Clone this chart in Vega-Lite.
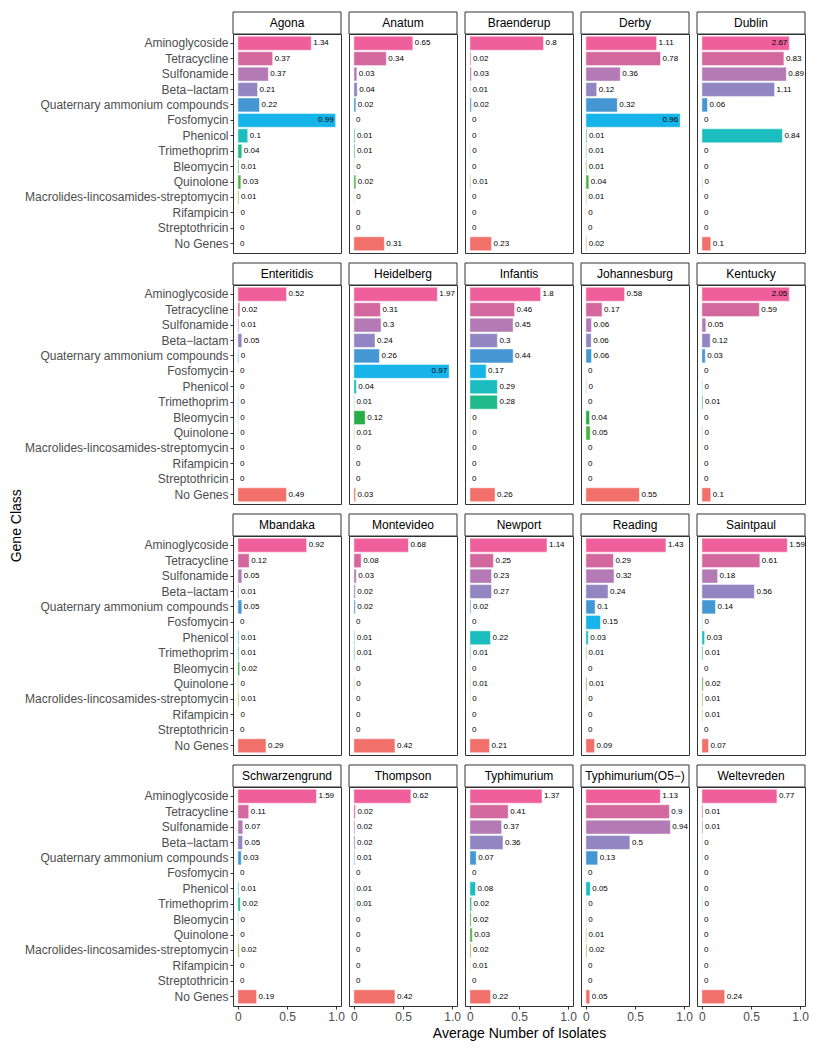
{
"$schema": "https://vega.github.io/schema/vega-lite/v6.json",
"padding": {"left": 10, "top": 10, "right": 5, "bottom": 5},
"background": "white",
"title": {"text": "Gene Class", "orient": "left", "anchor": "middle", "fontSize": 14, "fontWeight": "normal", "color": "#000000", "font": "Liberation Sans", "offset": 0},
"datasets": {"raw": [
{"serotype":"Agona","class":"Aminoglycoside","share":0.747,"avg":1.34},
{"serotype":"Agona","class":"Tetracycline","share":0.354,"avg":0.37},
{"serotype":"Agona","class":"Sulfonamide","share":0.31,"avg":0.37},
{"serotype":"Agona","class":"Beta−lactam","share":0.2,"avg":0.21},
{"serotype":"Agona","class":"Quaternary ammonium compounds","share":0.22,"avg":0.22},
{"serotype":"Agona","class":"Fosfomycin","share":0.995,"avg":0.99},
{"serotype":"Agona","class":"Phenicol","share":0.1,"avg":0.1},
{"serotype":"Agona","class":"Trimethoprim","share":0.04,"avg":0.04},
{"serotype":"Agona","class":"Bleomycin","share":0.01,"avg":0.01},
{"serotype":"Agona","class":"Quinolone","share":0.03,"avg":0.03},
{"serotype":"Agona","class":"Macrolides-lincosamides-streptomycin","share":0.01,"avg":0.01},
{"serotype":"Agona","class":"Rifampicin","share":0.005,"avg":0},
{"serotype":"Agona","class":"Streptothricin","share":0,"avg":0},
{"serotype":"Agona","class":"No Genes","share":0,"avg":0},
{"serotype":"Anatum","class":"Aminoglycoside","share":0.6,"avg":0.65},
{"serotype":"Anatum","class":"Tetracycline","share":0.33,"avg":0.34},
{"serotype":"Anatum","class":"Sulfonamide","share":0.03,"avg":0.03},
{"serotype":"Anatum","class":"Beta−lactam","share":0.034,"avg":0.04},
{"serotype":"Anatum","class":"Quaternary ammonium compounds","share":0.02,"avg":0.02},
{"serotype":"Anatum","class":"Fosfomycin","share":0,"avg":0},
{"serotype":"Anatum","class":"Phenicol","share":0.01,"avg":0.01},
{"serotype":"Anatum","class":"Trimethoprim","share":0.01,"avg":0.01},
{"serotype":"Anatum","class":"Bleomycin","share":0.003,"avg":0},
{"serotype":"Anatum","class":"Quinolone","share":0.02,"avg":0.02},
{"serotype":"Anatum","class":"Macrolides-lincosamides-streptomycin","share":0.003,"avg":0},
{"serotype":"Anatum","class":"Rifampicin","share":0,"avg":0},
{"serotype":"Anatum","class":"Streptothricin","share":0,"avg":0},
{"serotype":"Anatum","class":"No Genes","share":0.31,"avg":0.31},
{"serotype":"Braenderup","class":"Aminoglycoside","share":0.75,"avg":0.8},
{"serotype":"Braenderup","class":"Tetracycline","share":0.01,"avg":0.02},
{"serotype":"Braenderup","class":"Sulfonamide","share":0.015,"avg":0.03},
{"serotype":"Braenderup","class":"Beta−lactam","share":0.005,"avg":0.01},
{"serotype":"Braenderup","class":"Quaternary ammonium compounds","share":0.015,"avg":0.02},
{"serotype":"Braenderup","class":"Fosfomycin","share":0,"avg":0},
{"serotype":"Braenderup","class":"Phenicol","share":0,"avg":0},
{"serotype":"Braenderup","class":"Trimethoprim","share":0.003,"avg":0},
{"serotype":"Braenderup","class":"Bleomycin","share":0,"avg":0},
{"serotype":"Braenderup","class":"Quinolone","share":0.007,"avg":0.01},
{"serotype":"Braenderup","class":"Macrolides-lincosamides-streptomycin","share":0,"avg":0},
{"serotype":"Braenderup","class":"Rifampicin","share":0,"avg":0},
{"serotype":"Braenderup","class":"Streptothricin","share":0,"avg":0},
{"serotype":"Braenderup","class":"No Genes","share":0.22,"avg":0.23},
{"serotype":"Derby","class":"Aminoglycoside","share":0.72,"avg":1.11},
{"serotype":"Derby","class":"Tetracycline","share":0.76,"avg":0.78},
{"serotype":"Derby","class":"Sulfonamide","share":0.35,"avg":0.36},
{"serotype":"Derby","class":"Beta−lactam","share":0.11,"avg":0.12},
{"serotype":"Derby","class":"Quaternary ammonium compounds","share":0.32,"avg":0.32},
{"serotype":"Derby","class":"Fosfomycin","share":0.96,"avg":0.96},
{"serotype":"Derby","class":"Phenicol","share":0.01,"avg":0.01},
{"serotype":"Derby","class":"Trimethoprim","share":0.007,"avg":0.01},
{"serotype":"Derby","class":"Bleomycin","share":0.008,"avg":0.01},
{"serotype":"Derby","class":"Quinolone","share":0.03,"avg":0.04},
{"serotype":"Derby","class":"Macrolides-lincosamides-streptomycin","share":0.007,"avg":0.01},
{"serotype":"Derby","class":"Rifampicin","share":0.003,"avg":0},
{"serotype":"Derby","class":"Streptothricin","share":0,"avg":0},
{"serotype":"Derby","class":"No Genes","share":0.008,"avg":0.02},
{"serotype":"Dublin","class":"Aminoglycoside","share":0.89,"avg":2.67},
{"serotype":"Dublin","class":"Tetracycline","share":0.835,"avg":0.83},
{"serotype":"Dublin","class":"Sulfonamide","share":0.86,"avg":0.89},
{"serotype":"Dublin","class":"Beta−lactam","share":0.74,"avg":1.11},
{"serotype":"Dublin","class":"Quaternary ammonium compounds","share":0.057,"avg":0.06},
{"serotype":"Dublin","class":"Fosfomycin","share":0,"avg":0},
{"serotype":"Dublin","class":"Phenicol","share":0.82,"avg":0.84},
{"serotype":"Dublin","class":"Trimethoprim","share":0,"avg":0},
{"serotype":"Dublin","class":"Bleomycin","share":0,"avg":0},
{"serotype":"Dublin","class":"Quinolone","share":0.005,"avg":0},
{"serotype":"Dublin","class":"Macrolides-lincosamides-streptomycin","share":0,"avg":0},
{"serotype":"Dublin","class":"Rifampicin","share":0,"avg":0},
{"serotype":"Dublin","class":"Streptothricin","share":0,"avg":0},
{"serotype":"Dublin","class":"No Genes","share":0.09,"avg":0.1},
{"serotype":"Enteritidis","class":"Aminoglycoside","share":0.495,"avg":0.52},
{"serotype":"Enteritidis","class":"Tetracycline","share":0.02,"avg":0.02},
{"serotype":"Enteritidis","class":"Sulfonamide","share":0.01,"avg":0.01},
{"serotype":"Enteritidis","class":"Beta−lactam","share":0.04,"avg":0.05},
{"serotype":"Enteritidis","class":"Quaternary ammonium compounds","share":0.008,"avg":0},
{"serotype":"Enteritidis","class":"Fosfomycin","share":0,"avg":0},
{"serotype":"Enteritidis","class":"Phenicol","share":0.002,"avg":0},
{"serotype":"Enteritidis","class":"Trimethoprim","share":0.005,"avg":0},
{"serotype":"Enteritidis","class":"Bleomycin","share":0.004,"avg":0},
{"serotype":"Enteritidis","class":"Quinolone","share":0.004,"avg":0},
{"serotype":"Enteritidis","class":"Macrolides-lincosamides-streptomycin","share":0.002,"avg":0},
{"serotype":"Enteritidis","class":"Rifampicin","share":0,"avg":0},
{"serotype":"Enteritidis","class":"Streptothricin","share":0,"avg":0},
{"serotype":"Enteritidis","class":"No Genes","share":0.495,"avg":0.49},
{"serotype":"Heidelberg","class":"Aminoglycoside","share":0.85,"avg":1.97},
{"serotype":"Heidelberg","class":"Tetracycline","share":0.27,"avg":0.31},
{"serotype":"Heidelberg","class":"Sulfonamide","share":0.276,"avg":0.3},
{"serotype":"Heidelberg","class":"Beta−lactam","share":0.215,"avg":0.24},
{"serotype":"Heidelberg","class":"Quaternary ammonium compounds","share":0.26,"avg":0.26},
{"serotype":"Heidelberg","class":"Fosfomycin","share":0.97,"avg":0.97},
{"serotype":"Heidelberg","class":"Phenicol","share":0.025,"avg":0.04},
{"serotype":"Heidelberg","class":"Trimethoprim","share":0.005,"avg":0.01},
{"serotype":"Heidelberg","class":"Bleomycin","share":0.115,"avg":0.12},
{"serotype":"Heidelberg","class":"Quinolone","share":0.005,"avg":0.01},
{"serotype":"Heidelberg","class":"Macrolides-lincosamides-streptomycin","share":0.003,"avg":0},
{"serotype":"Heidelberg","class":"Rifampicin","share":0.002,"avg":0},
{"serotype":"Heidelberg","class":"Streptothricin","share":0.002,"avg":0},
{"serotype":"Heidelberg","class":"No Genes","share":0.017,"avg":0.03},
{"serotype":"Infantis","class":"Aminoglycoside","share":0.72,"avg":1.8},
{"serotype":"Infantis","class":"Tetracycline","share":0.455,"avg":0.46},
{"serotype":"Infantis","class":"Sulfonamide","share":0.44,"avg":0.45},
{"serotype":"Infantis","class":"Beta−lactam","share":0.28,"avg":0.3},
{"serotype":"Infantis","class":"Quaternary ammonium compounds","share":0.44,"avg":0.44},
{"serotype":"Infantis","class":"Fosfomycin","share":0.165,"avg":0.17},
{"serotype":"Infantis","class":"Phenicol","share":0.28,"avg":0.29},
{"serotype":"Infantis","class":"Trimethoprim","share":0.28,"avg":0.28},
{"serotype":"Infantis","class":"Bleomycin","share":0.003,"avg":0},
{"serotype":"Infantis","class":"Quinolone","share":0.003,"avg":0},
{"serotype":"Infantis","class":"Macrolides-lincosamides-streptomycin","share":0.003,"avg":0},
{"serotype":"Infantis","class":"Rifampicin","share":0,"avg":0},
{"serotype":"Infantis","class":"Streptothricin","share":0,"avg":0},
{"serotype":"Infantis","class":"No Genes","share":0.256,"avg":0.26},
{"serotype":"Johannesburg","class":"Aminoglycoside","share":0.394,"avg":0.58},
{"serotype":"Johannesburg","class":"Tetracycline","share":0.165,"avg":0.17},
{"serotype":"Johannesburg","class":"Sulfonamide","share":0.057,"avg":0.06},
{"serotype":"Johannesburg","class":"Beta−lactam","share":0.054,"avg":0.06},
{"serotype":"Johannesburg","class":"Quaternary ammonium compounds","share":0.057,"avg":0.06},
{"serotype":"Johannesburg","class":"Fosfomycin","share":0,"avg":0},
{"serotype":"Johannesburg","class":"Phenicol","share":0.005,"avg":0},
{"serotype":"Johannesburg","class":"Trimethoprim","share":0,"avg":0},
{"serotype":"Johannesburg","class":"Bleomycin","share":0.037,"avg":0.04},
{"serotype":"Johannesburg","class":"Quinolone","share":0.044,"avg":0.05},
{"serotype":"Johannesburg","class":"Macrolides-lincosamides-streptomycin","share":0,"avg":0},
{"serotype":"Johannesburg","class":"Rifampicin","share":0,"avg":0},
{"serotype":"Johannesburg","class":"Streptothricin","share":0,"avg":0},
{"serotype":"Johannesburg","class":"No Genes","share":0.545,"avg":0.55},
{"serotype":"Kentucky","class":"Aminoglycoside","share":0.89,"avg":2.05},
{"serotype":"Kentucky","class":"Tetracycline","share":0.585,"avg":0.59},
{"serotype":"Kentucky","class":"Sulfonamide","share":0.04,"avg":0.05},
{"serotype":"Kentucky","class":"Beta−lactam","share":0.084,"avg":0.12},
{"serotype":"Kentucky","class":"Quaternary ammonium compounds","share":0.034,"avg":0.03},
{"serotype":"Kentucky","class":"Fosfomycin","share":0,"avg":0},
{"serotype":"Kentucky","class":"Phenicol","share":0.006,"avg":0},
{"serotype":"Kentucky","class":"Trimethoprim","share":0.01,"avg":0.01},
{"serotype":"Kentucky","class":"Bleomycin","share":0,"avg":0},
{"serotype":"Kentucky","class":"Quinolone","share":0.005,"avg":0},
{"serotype":"Kentucky","class":"Macrolides-lincosamides-streptomycin","share":0.002,"avg":0},
{"serotype":"Kentucky","class":"Rifampicin","share":0.002,"avg":0},
{"serotype":"Kentucky","class":"Streptothricin","share":0,"avg":0},
{"serotype":"Kentucky","class":"No Genes","share":0.09,"avg":0.1},
{"serotype":"Mbandaka","class":"Aminoglycoside","share":0.7,"avg":0.92},
{"serotype":"Mbandaka","class":"Tetracycline","share":0.115,"avg":0.12},
{"serotype":"Mbandaka","class":"Sulfonamide","share":0.04,"avg":0.05},
{"serotype":"Mbandaka","class":"Beta−lactam","share":0.01,"avg":0.01},
{"serotype":"Mbandaka","class":"Quaternary ammonium compounds","share":0.04,"avg":0.05},
{"serotype":"Mbandaka","class":"Fosfomycin","share":0,"avg":0},
{"serotype":"Mbandaka","class":"Phenicol","share":0.01,"avg":0.01},
{"serotype":"Mbandaka","class":"Trimethoprim","share":0.01,"avg":0.01},
{"serotype":"Mbandaka","class":"Bleomycin","share":0.017,"avg":0.02},
{"serotype":"Mbandaka","class":"Quinolone","share":0.005,"avg":0},
{"serotype":"Mbandaka","class":"Macrolides-lincosamides-streptomycin","share":0.01,"avg":0.01},
{"serotype":"Mbandaka","class":"Rifampicin","share":0.005,"avg":0},
{"serotype":"Mbandaka","class":"Streptothricin","share":0,"avg":0},
{"serotype":"Mbandaka","class":"No Genes","share":0.286,"avg":0.29},
{"serotype":"Montevideo","class":"Aminoglycoside","share":0.555,"avg":0.68},
{"serotype":"Montevideo","class":"Tetracycline","share":0.074,"avg":0.08},
{"serotype":"Montevideo","class":"Sulfonamide","share":0.024,"avg":0.03},
{"serotype":"Montevideo","class":"Beta−lactam","share":0.014,"avg":0.02},
{"serotype":"Montevideo","class":"Quaternary ammonium compounds","share":0.014,"avg":0.02},
{"serotype":"Montevideo","class":"Fosfomycin","share":0,"avg":0},
{"serotype":"Montevideo","class":"Phenicol","share":0.008,"avg":0.01},
{"serotype":"Montevideo","class":"Trimethoprim","share":0.008,"avg":0.01},
{"serotype":"Montevideo","class":"Bleomycin","share":0,"avg":0},
{"serotype":"Montevideo","class":"Quinolone","share":0.004,"avg":0},
{"serotype":"Montevideo","class":"Macrolides-lincosamides-streptomycin","share":0,"avg":0},
{"serotype":"Montevideo","class":"Rifampicin","share":0,"avg":0},
{"serotype":"Montevideo","class":"Streptothricin","share":0,"avg":0},
{"serotype":"Montevideo","class":"No Genes","share":0.418,"avg":0.42},
{"serotype":"Newport","class":"Aminoglycoside","share":0.785,"avg":1.14},
{"serotype":"Newport","class":"Tetracycline","share":0.24,"avg":0.25},
{"serotype":"Newport","class":"Sulfonamide","share":0.22,"avg":0.23},
{"serotype":"Newport","class":"Beta−lactam","share":0.22,"avg":0.27},
{"serotype":"Newport","class":"Quaternary ammonium compounds","share":0.01,"avg":0.02},
{"serotype":"Newport","class":"Fosfomycin","share":0,"avg":0},
{"serotype":"Newport","class":"Phenicol","share":0.21,"avg":0.22},
{"serotype":"Newport","class":"Trimethoprim","share":0.008,"avg":0.01},
{"serotype":"Newport","class":"Bleomycin","share":0.002,"avg":0},
{"serotype":"Newport","class":"Quinolone","share":0.006,"avg":0.01},
{"serotype":"Newport","class":"Macrolides-lincosamides-streptomycin","share":0.003,"avg":0},
{"serotype":"Newport","class":"Rifampicin","share":0.002,"avg":0},
{"serotype":"Newport","class":"Streptothricin","share":0,"avg":0},
{"serotype":"Newport","class":"No Genes","share":0.2,"avg":0.21},
{"serotype":"Reading","class":"Aminoglycoside","share":0.815,"avg":1.43},
{"serotype":"Reading","class":"Tetracycline","share":0.28,"avg":0.29},
{"serotype":"Reading","class":"Sulfonamide","share":0.286,"avg":0.32},
{"serotype":"Reading","class":"Beta−lactam","share":0.225,"avg":0.24},
{"serotype":"Reading","class":"Quaternary ammonium compounds","share":0.094,"avg":0.1},
{"serotype":"Reading","class":"Fosfomycin","share":0.148,"avg":0.15},
{"serotype":"Reading","class":"Phenicol","share":0.024,"avg":0.03},
{"serotype":"Reading","class":"Trimethoprim","share":0.007,"avg":0.01},
{"serotype":"Reading","class":"Bleomycin","share":0,"avg":0},
{"serotype":"Reading","class":"Quinolone","share":0.01,"avg":0.01},
{"serotype":"Reading","class":"Macrolides-lincosamides-streptomycin","share":0.004,"avg":0},
{"serotype":"Reading","class":"Rifampicin","share":0,"avg":0},
{"serotype":"Reading","class":"Streptothricin","share":0,"avg":0},
{"serotype":"Reading","class":"No Genes","share":0.088,"avg":0.09},
{"serotype":"Saintpaul","class":"Aminoglycoside","share":0.87,"avg":1.59},
{"serotype":"Saintpaul","class":"Tetracycline","share":0.59,"avg":0.61},
{"serotype":"Saintpaul","class":"Sulfonamide","share":0.16,"avg":0.18},
{"serotype":"Saintpaul","class":"Beta−lactam","share":0.535,"avg":0.56},
{"serotype":"Saintpaul","class":"Quaternary ammonium compounds","share":0.138,"avg":0.14},
{"serotype":"Saintpaul","class":"Fosfomycin","share":0.005,"avg":0},
{"serotype":"Saintpaul","class":"Phenicol","share":0.027,"avg":0.03},
{"serotype":"Saintpaul","class":"Trimethoprim","share":0.01,"avg":0.01},
{"serotype":"Saintpaul","class":"Bleomycin","share":0,"avg":0},
{"serotype":"Saintpaul","class":"Quinolone","share":0.013,"avg":0.02},
{"serotype":"Saintpaul","class":"Macrolides-lincosamides-streptomycin","share":0.01,"avg":0.01},
{"serotype":"Saintpaul","class":"Rifampicin","share":0.01,"avg":0.01},
{"serotype":"Saintpaul","class":"Streptothricin","share":0,"avg":0},
{"serotype":"Saintpaul","class":"No Genes","share":0.067,"avg":0.07},
{"serotype":"Schwarzengrund","class":"Aminoglycoside","share":0.8,"avg":1.59},
{"serotype":"Schwarzengrund","class":"Tetracycline","share":0.11,"avg":0.11},
{"serotype":"Schwarzengrund","class":"Sulfonamide","share":0.05,"avg":0.07},
{"serotype":"Schwarzengrund","class":"Beta−lactam","share":0.047,"avg":0.05},
{"serotype":"Schwarzengrund","class":"Quaternary ammonium compounds","share":0.034,"avg":0.03},
{"serotype":"Schwarzengrund","class":"Fosfomycin","share":0,"avg":0},
{"serotype":"Schwarzengrund","class":"Phenicol","share":0.01,"avg":0.01},
{"serotype":"Schwarzengrund","class":"Trimethoprim","share":0.024,"avg":0.02},
{"serotype":"Schwarzengrund","class":"Bleomycin","share":0.005,"avg":0},
{"serotype":"Schwarzengrund","class":"Quinolone","share":0.003,"avg":0},
{"serotype":"Schwarzengrund","class":"Macrolides-lincosamides-streptomycin","share":0.013,"avg":0.02},
{"serotype":"Schwarzengrund","class":"Rifampicin","share":0,"avg":0},
{"serotype":"Schwarzengrund","class":"Streptothricin","share":0,"avg":0},
{"serotype":"Schwarzengrund","class":"No Genes","share":0.19,"avg":0.19},
{"serotype":"Thompson","class":"Aminoglycoside","share":0.58,"avg":0.62},
{"serotype":"Thompson","class":"Tetracycline","share":0.015,"avg":0.02},
{"serotype":"Thompson","class":"Sulfonamide","share":0.01,"avg":0.02},
{"serotype":"Thompson","class":"Beta−lactam","share":0.012,"avg":0.02},
{"serotype":"Thompson","class":"Quaternary ammonium compounds","share":0.008,"avg":0.01},
{"serotype":"Thompson","class":"Fosfomycin","share":0,"avg":0},
{"serotype":"Thompson","class":"Phenicol","share":0.005,"avg":0.01},
{"serotype":"Thompson","class":"Trimethoprim","share":0.006,"avg":0.01},
{"serotype":"Thompson","class":"Bleomycin","share":0,"avg":0},
{"serotype":"Thompson","class":"Quinolone","share":0,"avg":0},
{"serotype":"Thompson","class":"Macrolides-lincosamides-streptomycin","share":0,"avg":0},
{"serotype":"Thompson","class":"Rifampicin","share":0,"avg":0},
{"serotype":"Thompson","class":"Streptothricin","share":0,"avg":0},
{"serotype":"Thompson","class":"No Genes","share":0.418,"avg":0.42},
{"serotype":"Typhimurium","class":"Aminoglycoside","share":0.734,"avg":1.37},
{"serotype":"Typhimurium","class":"Tetracycline","share":0.39,"avg":0.41},
{"serotype":"Typhimurium","class":"Sulfonamide","share":0.323,"avg":0.37},
{"serotype":"Typhimurium","class":"Beta−lactam","share":0.337,"avg":0.36},
{"serotype":"Typhimurium","class":"Quaternary ammonium compounds","share":0.064,"avg":0.07},
{"serotype":"Typhimurium","class":"Fosfomycin","share":0,"avg":0},
{"serotype":"Typhimurium","class":"Phenicol","share":0.057,"avg":0.08},
{"serotype":"Typhimurium","class":"Trimethoprim","share":0.017,"avg":0.02},
{"serotype":"Typhimurium","class":"Bleomycin","share":0.012,"avg":0.02},
{"serotype":"Typhimurium","class":"Quinolone","share":0.024,"avg":0.03},
{"serotype":"Typhimurium","class":"Macrolides-lincosamides-streptomycin","share":0.012,"avg":0.02},
{"serotype":"Typhimurium","class":"Rifampicin","share":0.005,"avg":0.01},
{"serotype":"Typhimurium","class":"Streptothricin","share":0,"avg":0},
{"serotype":"Typhimurium","class":"No Genes","share":0.21,"avg":0.22},
{"serotype":"Typhimurium(O5−)","class":"Aminoglycoside","share":0.758,"avg":1.13},
{"serotype":"Typhimurium(O5−)","class":"Tetracycline","share":0.85,"avg":0.9},
{"serotype":"Typhimurium(O5−)","class":"Sulfonamide","share":0.86,"avg":0.94},
{"serotype":"Typhimurium(O5−)","class":"Beta−lactam","share":0.448,"avg":0.5},
{"serotype":"Typhimurium(O5−)","class":"Quaternary ammonium compounds","share":0.12,"avg":0.13},
{"serotype":"Typhimurium(O5−)","class":"Fosfomycin","share":0,"avg":0},
{"serotype":"Typhimurium(O5−)","class":"Phenicol","share":0.044,"avg":0.05},
{"serotype":"Typhimurium(O5−)","class":"Trimethoprim","share":0.004,"avg":0},
{"serotype":"Typhimurium(O5−)","class":"Bleomycin","share":0.004,"avg":0},
{"serotype":"Typhimurium(O5−)","class":"Quinolone","share":0.007,"avg":0.01},
{"serotype":"Typhimurium(O5−)","class":"Macrolides-lincosamides-streptomycin","share":0.01,"avg":0.02},
{"serotype":"Typhimurium(O5−)","class":"Rifampicin","share":0,"avg":0},
{"serotype":"Typhimurium(O5−)","class":"Streptothricin","share":0,"avg":0},
{"serotype":"Typhimurium(O5−)","class":"No Genes","share":0.04,"avg":0.05},
{"serotype":"Weltevreden","class":"Aminoglycoside","share":0.764,"avg":0.77},
{"serotype":"Weltevreden","class":"Tetracycline","share":0.01,"avg":0.01},
{"serotype":"Weltevreden","class":"Sulfonamide","share":0.01,"avg":0.01},
{"serotype":"Weltevreden","class":"Beta−lactam","share":0.003,"avg":0},
{"serotype":"Weltevreden","class":"Quaternary ammonium compounds","share":0.003,"avg":0},
{"serotype":"Weltevreden","class":"Fosfomycin","share":0,"avg":0},
{"serotype":"Weltevreden","class":"Phenicol","share":0,"avg":0},
{"serotype":"Weltevreden","class":"Trimethoprim","share":0.005,"avg":0},
{"serotype":"Weltevreden","class":"Bleomycin","share":0,"avg":0},
{"serotype":"Weltevreden","class":"Quinolone","share":0,"avg":0},
{"serotype":"Weltevreden","class":"Macrolides-lincosamides-streptomycin","share":0,"avg":0},
{"serotype":"Weltevreden","class":"Rifampicin","share":0,"avg":0},
{"serotype":"Weltevreden","class":"Streptothricin","share":0,"avg":0},
{"serotype":"Weltevreden","class":"No Genes","share":0.232,"avg":0.24}
]},
"data": {"name": "raw"},
"columns": 5,
"spacing": {"row": 32, "column": 8},
"bounds": "flush",
"concat": [
{"width":108,"height":219,"transform":[{"filter":"datum.serotype == 'Agona'"}],"resolve":{"scale":{"y":"independent"}},"layer":[{"layer":[{"mark":{"type":"bar","stroke":"white","strokeOpacity":0.45,"strokeWidth":1},"encoding":{"x":{"field":"share","type":"quantitative","scale":{"domain":[-0.05,1.05],"nice":false},"axis":null},"x2":{"datum":0},"y":{"field":"class","type":"nominal","scale":{"domain":["Aminoglycoside","Tetracycline","Sulfonamide","Beta−lactam","Quaternary ammonium compounds","Fosfomycin","Phenicol","Trimethoprim","Bleomycin","Quinolone","Macrolides-lincosamides-streptomycin","Rifampicin","Streptothricin","No Genes"],"paddingInner":0.1,"paddingOuter":0.15},"axis":{"title":null}},"color":{"field":"class","type":"nominal","legend":null,"scale":{"domain":["Aminoglycoside","Tetracycline","Sulfonamide","Beta−lactam","Quaternary ammonium compounds","Fosfomycin","Phenicol","Trimethoprim","Bleomycin","Quinolone","Macrolides-lincosamides-streptomycin","Rifampicin","Streptothricin","No Genes"],"range":["#EE5F9C","#D3689F","#B37AB5","#9186C2","#4597D3","#16B4E9","#1CBDBF","#1FB98A","#28AE48","#4FB045","#A2A93A","#E3C27E","#F0A060","#F1716A"]}}}},{"transform":[{"filter":"datum.share < 0.88"}],"mark":{"type":"text","align":"left","dx":2},"encoding":{"x":{"field":"share","type":"quantitative"},"y":{"field":"class","type":"nominal"},"text":{"field":"avg","type":"nominal"}}},{"transform":[{"filter":"datum.share >= 0.88"}],"mark":{"type":"text","align":"right","dx":-2},"encoding":{"x":{"field":"share","type":"quantitative"},"y":{"field":"class","type":"nominal"},"text":{"field":"avg","type":"nominal"}}}]},{"transform":[{"filter":"datum.class == 'Aminoglycoside'"}],"layer":[{"mark":{"type":"rect","fill":"white","stroke":"#333333","strokeWidth":1},"encoding":{"x":{"datum":-0.05,"type":"quantitative"},"x2":{"datum":1.05},"y":{"datum":1,"type":"quantitative","scale":{"domain":[0,1],"nice":false,"zero":false},"axis":null},"y2":{"datum":1.1005}}},{"mark":{"type":"text","fontSize":12,"align":"center"},"encoding":{"x":{"datum":0.5,"type":"quantitative"},"y":{"datum":1.05,"type":"quantitative"},"text":{"field":"serotype","type":"nominal"}}}]}]},
{"width":108,"height":219,"transform":[{"filter":"datum.serotype == 'Anatum'"}],"resolve":{"scale":{"y":"independent"}},"layer":[{"layer":[{"mark":{"type":"bar","stroke":"white","strokeOpacity":0.45,"strokeWidth":1},"encoding":{"x":{"field":"share","type":"quantitative","scale":{"domain":[-0.05,1.05],"nice":false},"axis":null},"x2":{"datum":0},"y":{"field":"class","type":"nominal","scale":{"domain":["Aminoglycoside","Tetracycline","Sulfonamide","Beta−lactam","Quaternary ammonium compounds","Fosfomycin","Phenicol","Trimethoprim","Bleomycin","Quinolone","Macrolides-lincosamides-streptomycin","Rifampicin","Streptothricin","No Genes"],"paddingInner":0.1,"paddingOuter":0.15},"axis":null},"color":{"field":"class","type":"nominal","legend":null,"scale":{"domain":["Aminoglycoside","Tetracycline","Sulfonamide","Beta−lactam","Quaternary ammonium compounds","Fosfomycin","Phenicol","Trimethoprim","Bleomycin","Quinolone","Macrolides-lincosamides-streptomycin","Rifampicin","Streptothricin","No Genes"],"range":["#EE5F9C","#D3689F","#B37AB5","#9186C2","#4597D3","#16B4E9","#1CBDBF","#1FB98A","#28AE48","#4FB045","#A2A93A","#E3C27E","#F0A060","#F1716A"]}}}},{"transform":[{"filter":"datum.share < 0.88"}],"mark":{"type":"text","align":"left","dx":2},"encoding":{"x":{"field":"share","type":"quantitative"},"y":{"field":"class","type":"nominal"},"text":{"field":"avg","type":"nominal"}}},{"transform":[{"filter":"datum.share >= 0.88"}],"mark":{"type":"text","align":"right","dx":-2},"encoding":{"x":{"field":"share","type":"quantitative"},"y":{"field":"class","type":"nominal"},"text":{"field":"avg","type":"nominal"}}}]},{"transform":[{"filter":"datum.class == 'Aminoglycoside'"}],"layer":[{"mark":{"type":"rect","fill":"white","stroke":"#333333","strokeWidth":1},"encoding":{"x":{"datum":-0.05,"type":"quantitative"},"x2":{"datum":1.05},"y":{"datum":1,"type":"quantitative","scale":{"domain":[0,1],"nice":false,"zero":false},"axis":null},"y2":{"datum":1.1005}}},{"mark":{"type":"text","fontSize":12,"align":"center"},"encoding":{"x":{"datum":0.5,"type":"quantitative"},"y":{"datum":1.05,"type":"quantitative"},"text":{"field":"serotype","type":"nominal"}}}]}]},
{"width":108,"height":219,"transform":[{"filter":"datum.serotype == 'Braenderup'"}],"resolve":{"scale":{"y":"independent"}},"layer":[{"layer":[{"mark":{"type":"bar","stroke":"white","strokeOpacity":0.45,"strokeWidth":1},"encoding":{"x":{"field":"share","type":"quantitative","scale":{"domain":[-0.05,1.05],"nice":false},"axis":null},"x2":{"datum":0},"y":{"field":"class","type":"nominal","scale":{"domain":["Aminoglycoside","Tetracycline","Sulfonamide","Beta−lactam","Quaternary ammonium compounds","Fosfomycin","Phenicol","Trimethoprim","Bleomycin","Quinolone","Macrolides-lincosamides-streptomycin","Rifampicin","Streptothricin","No Genes"],"paddingInner":0.1,"paddingOuter":0.15},"axis":null},"color":{"field":"class","type":"nominal","legend":null,"scale":{"domain":["Aminoglycoside","Tetracycline","Sulfonamide","Beta−lactam","Quaternary ammonium compounds","Fosfomycin","Phenicol","Trimethoprim","Bleomycin","Quinolone","Macrolides-lincosamides-streptomycin","Rifampicin","Streptothricin","No Genes"],"range":["#EE5F9C","#D3689F","#B37AB5","#9186C2","#4597D3","#16B4E9","#1CBDBF","#1FB98A","#28AE48","#4FB045","#A2A93A","#E3C27E","#F0A060","#F1716A"]}}}},{"transform":[{"filter":"datum.share < 0.88"}],"mark":{"type":"text","align":"left","dx":2},"encoding":{"x":{"field":"share","type":"quantitative"},"y":{"field":"class","type":"nominal"},"text":{"field":"avg","type":"nominal"}}},{"transform":[{"filter":"datum.share >= 0.88"}],"mark":{"type":"text","align":"right","dx":-2},"encoding":{"x":{"field":"share","type":"quantitative"},"y":{"field":"class","type":"nominal"},"text":{"field":"avg","type":"nominal"}}}]},{"transform":[{"filter":"datum.class == 'Aminoglycoside'"}],"layer":[{"mark":{"type":"rect","fill":"white","stroke":"#333333","strokeWidth":1},"encoding":{"x":{"datum":-0.05,"type":"quantitative"},"x2":{"datum":1.05},"y":{"datum":1,"type":"quantitative","scale":{"domain":[0,1],"nice":false,"zero":false},"axis":null},"y2":{"datum":1.1005}}},{"mark":{"type":"text","fontSize":12,"align":"center"},"encoding":{"x":{"datum":0.5,"type":"quantitative"},"y":{"datum":1.05,"type":"quantitative"},"text":{"field":"serotype","type":"nominal"}}}]}]},
{"width":108,"height":219,"transform":[{"filter":"datum.serotype == 'Derby'"}],"resolve":{"scale":{"y":"independent"}},"layer":[{"layer":[{"mark":{"type":"bar","stroke":"white","strokeOpacity":0.45,"strokeWidth":1},"encoding":{"x":{"field":"share","type":"quantitative","scale":{"domain":[-0.05,1.05],"nice":false},"axis":null},"x2":{"datum":0},"y":{"field":"class","type":"nominal","scale":{"domain":["Aminoglycoside","Tetracycline","Sulfonamide","Beta−lactam","Quaternary ammonium compounds","Fosfomycin","Phenicol","Trimethoprim","Bleomycin","Quinolone","Macrolides-lincosamides-streptomycin","Rifampicin","Streptothricin","No Genes"],"paddingInner":0.1,"paddingOuter":0.15},"axis":null},"color":{"field":"class","type":"nominal","legend":null,"scale":{"domain":["Aminoglycoside","Tetracycline","Sulfonamide","Beta−lactam","Quaternary ammonium compounds","Fosfomycin","Phenicol","Trimethoprim","Bleomycin","Quinolone","Macrolides-lincosamides-streptomycin","Rifampicin","Streptothricin","No Genes"],"range":["#EE5F9C","#D3689F","#B37AB5","#9186C2","#4597D3","#16B4E9","#1CBDBF","#1FB98A","#28AE48","#4FB045","#A2A93A","#E3C27E","#F0A060","#F1716A"]}}}},{"transform":[{"filter":"datum.share < 0.88"}],"mark":{"type":"text","align":"left","dx":2},"encoding":{"x":{"field":"share","type":"quantitative"},"y":{"field":"class","type":"nominal"},"text":{"field":"avg","type":"nominal"}}},{"transform":[{"filter":"datum.share >= 0.88"}],"mark":{"type":"text","align":"right","dx":-2},"encoding":{"x":{"field":"share","type":"quantitative"},"y":{"field":"class","type":"nominal"},"text":{"field":"avg","type":"nominal"}}}]},{"transform":[{"filter":"datum.class == 'Aminoglycoside'"}],"layer":[{"mark":{"type":"rect","fill":"white","stroke":"#333333","strokeWidth":1},"encoding":{"x":{"datum":-0.05,"type":"quantitative"},"x2":{"datum":1.05},"y":{"datum":1,"type":"quantitative","scale":{"domain":[0,1],"nice":false,"zero":false},"axis":null},"y2":{"datum":1.1005}}},{"mark":{"type":"text","fontSize":12,"align":"center"},"encoding":{"x":{"datum":0.5,"type":"quantitative"},"y":{"datum":1.05,"type":"quantitative"},"text":{"field":"serotype","type":"nominal"}}}]}]},
{"width":108,"height":219,"transform":[{"filter":"datum.serotype == 'Dublin'"}],"resolve":{"scale":{"y":"independent"}},"layer":[{"layer":[{"mark":{"type":"bar","stroke":"white","strokeOpacity":0.45,"strokeWidth":1},"encoding":{"x":{"field":"share","type":"quantitative","scale":{"domain":[-0.05,1.05],"nice":false},"axis":null},"x2":{"datum":0},"y":{"field":"class","type":"nominal","scale":{"domain":["Aminoglycoside","Tetracycline","Sulfonamide","Beta−lactam","Quaternary ammonium compounds","Fosfomycin","Phenicol","Trimethoprim","Bleomycin","Quinolone","Macrolides-lincosamides-streptomycin","Rifampicin","Streptothricin","No Genes"],"paddingInner":0.1,"paddingOuter":0.15},"axis":null},"color":{"field":"class","type":"nominal","legend":null,"scale":{"domain":["Aminoglycoside","Tetracycline","Sulfonamide","Beta−lactam","Quaternary ammonium compounds","Fosfomycin","Phenicol","Trimethoprim","Bleomycin","Quinolone","Macrolides-lincosamides-streptomycin","Rifampicin","Streptothricin","No Genes"],"range":["#EE5F9C","#D3689F","#B37AB5","#9186C2","#4597D3","#16B4E9","#1CBDBF","#1FB98A","#28AE48","#4FB045","#A2A93A","#E3C27E","#F0A060","#F1716A"]}}}},{"transform":[{"filter":"datum.share < 0.88"}],"mark":{"type":"text","align":"left","dx":2},"encoding":{"x":{"field":"share","type":"quantitative"},"y":{"field":"class","type":"nominal"},"text":{"field":"avg","type":"nominal"}}},{"transform":[{"filter":"datum.share >= 0.88"}],"mark":{"type":"text","align":"right","dx":-2},"encoding":{"x":{"field":"share","type":"quantitative"},"y":{"field":"class","type":"nominal"},"text":{"field":"avg","type":"nominal"}}}]},{"transform":[{"filter":"datum.class == 'Aminoglycoside'"}],"layer":[{"mark":{"type":"rect","fill":"white","stroke":"#333333","strokeWidth":1},"encoding":{"x":{"datum":-0.05,"type":"quantitative"},"x2":{"datum":1.05},"y":{"datum":1,"type":"quantitative","scale":{"domain":[0,1],"nice":false,"zero":false},"axis":null},"y2":{"datum":1.1005}}},{"mark":{"type":"text","fontSize":12,"align":"center"},"encoding":{"x":{"datum":0.5,"type":"quantitative"},"y":{"datum":1.05,"type":"quantitative"},"text":{"field":"serotype","type":"nominal"}}}]}]},
{"width":108,"height":219,"transform":[{"filter":"datum.serotype == 'Enteritidis'"}],"resolve":{"scale":{"y":"independent"}},"layer":[{"layer":[{"mark":{"type":"bar","stroke":"white","strokeOpacity":0.45,"strokeWidth":1},"encoding":{"x":{"field":"share","type":"quantitative","scale":{"domain":[-0.05,1.05],"nice":false},"axis":null},"x2":{"datum":0},"y":{"field":"class","type":"nominal","scale":{"domain":["Aminoglycoside","Tetracycline","Sulfonamide","Beta−lactam","Quaternary ammonium compounds","Fosfomycin","Phenicol","Trimethoprim","Bleomycin","Quinolone","Macrolides-lincosamides-streptomycin","Rifampicin","Streptothricin","No Genes"],"paddingInner":0.1,"paddingOuter":0.15},"axis":{"title":null}},"color":{"field":"class","type":"nominal","legend":null,"scale":{"domain":["Aminoglycoside","Tetracycline","Sulfonamide","Beta−lactam","Quaternary ammonium compounds","Fosfomycin","Phenicol","Trimethoprim","Bleomycin","Quinolone","Macrolides-lincosamides-streptomycin","Rifampicin","Streptothricin","No Genes"],"range":["#EE5F9C","#D3689F","#B37AB5","#9186C2","#4597D3","#16B4E9","#1CBDBF","#1FB98A","#28AE48","#4FB045","#A2A93A","#E3C27E","#F0A060","#F1716A"]}}}},{"transform":[{"filter":"datum.share < 0.88"}],"mark":{"type":"text","align":"left","dx":2},"encoding":{"x":{"field":"share","type":"quantitative"},"y":{"field":"class","type":"nominal"},"text":{"field":"avg","type":"nominal"}}},{"transform":[{"filter":"datum.share >= 0.88"}],"mark":{"type":"text","align":"right","dx":-2},"encoding":{"x":{"field":"share","type":"quantitative"},"y":{"field":"class","type":"nominal"},"text":{"field":"avg","type":"nominal"}}}]},{"transform":[{"filter":"datum.class == 'Aminoglycoside'"}],"layer":[{"mark":{"type":"rect","fill":"white","stroke":"#333333","strokeWidth":1},"encoding":{"x":{"datum":-0.05,"type":"quantitative"},"x2":{"datum":1.05},"y":{"datum":1,"type":"quantitative","scale":{"domain":[0,1],"nice":false,"zero":false},"axis":null},"y2":{"datum":1.1005}}},{"mark":{"type":"text","fontSize":12,"align":"center"},"encoding":{"x":{"datum":0.5,"type":"quantitative"},"y":{"datum":1.05,"type":"quantitative"},"text":{"field":"serotype","type":"nominal"}}}]}]},
{"width":108,"height":219,"transform":[{"filter":"datum.serotype == 'Heidelberg'"}],"resolve":{"scale":{"y":"independent"}},"layer":[{"layer":[{"mark":{"type":"bar","stroke":"white","strokeOpacity":0.45,"strokeWidth":1},"encoding":{"x":{"field":"share","type":"quantitative","scale":{"domain":[-0.05,1.05],"nice":false},"axis":null},"x2":{"datum":0},"y":{"field":"class","type":"nominal","scale":{"domain":["Aminoglycoside","Tetracycline","Sulfonamide","Beta−lactam","Quaternary ammonium compounds","Fosfomycin","Phenicol","Trimethoprim","Bleomycin","Quinolone","Macrolides-lincosamides-streptomycin","Rifampicin","Streptothricin","No Genes"],"paddingInner":0.1,"paddingOuter":0.15},"axis":null},"color":{"field":"class","type":"nominal","legend":null,"scale":{"domain":["Aminoglycoside","Tetracycline","Sulfonamide","Beta−lactam","Quaternary ammonium compounds","Fosfomycin","Phenicol","Trimethoprim","Bleomycin","Quinolone","Macrolides-lincosamides-streptomycin","Rifampicin","Streptothricin","No Genes"],"range":["#EE5F9C","#D3689F","#B37AB5","#9186C2","#4597D3","#16B4E9","#1CBDBF","#1FB98A","#28AE48","#4FB045","#A2A93A","#E3C27E","#F0A060","#F1716A"]}}}},{"transform":[{"filter":"datum.share < 0.88"}],"mark":{"type":"text","align":"left","dx":2},"encoding":{"x":{"field":"share","type":"quantitative"},"y":{"field":"class","type":"nominal"},"text":{"field":"avg","type":"nominal"}}},{"transform":[{"filter":"datum.share >= 0.88"}],"mark":{"type":"text","align":"right","dx":-2},"encoding":{"x":{"field":"share","type":"quantitative"},"y":{"field":"class","type":"nominal"},"text":{"field":"avg","type":"nominal"}}}]},{"transform":[{"filter":"datum.class == 'Aminoglycoside'"}],"layer":[{"mark":{"type":"rect","fill":"white","stroke":"#333333","strokeWidth":1},"encoding":{"x":{"datum":-0.05,"type":"quantitative"},"x2":{"datum":1.05},"y":{"datum":1,"type":"quantitative","scale":{"domain":[0,1],"nice":false,"zero":false},"axis":null},"y2":{"datum":1.1005}}},{"mark":{"type":"text","fontSize":12,"align":"center"},"encoding":{"x":{"datum":0.5,"type":"quantitative"},"y":{"datum":1.05,"type":"quantitative"},"text":{"field":"serotype","type":"nominal"}}}]}]},
{"width":108,"height":219,"transform":[{"filter":"datum.serotype == 'Infantis'"}],"resolve":{"scale":{"y":"independent"}},"layer":[{"layer":[{"mark":{"type":"bar","stroke":"white","strokeOpacity":0.45,"strokeWidth":1},"encoding":{"x":{"field":"share","type":"quantitative","scale":{"domain":[-0.05,1.05],"nice":false},"axis":null},"x2":{"datum":0},"y":{"field":"class","type":"nominal","scale":{"domain":["Aminoglycoside","Tetracycline","Sulfonamide","Beta−lactam","Quaternary ammonium compounds","Fosfomycin","Phenicol","Trimethoprim","Bleomycin","Quinolone","Macrolides-lincosamides-streptomycin","Rifampicin","Streptothricin","No Genes"],"paddingInner":0.1,"paddingOuter":0.15},"axis":null},"color":{"field":"class","type":"nominal","legend":null,"scale":{"domain":["Aminoglycoside","Tetracycline","Sulfonamide","Beta−lactam","Quaternary ammonium compounds","Fosfomycin","Phenicol","Trimethoprim","Bleomycin","Quinolone","Macrolides-lincosamides-streptomycin","Rifampicin","Streptothricin","No Genes"],"range":["#EE5F9C","#D3689F","#B37AB5","#9186C2","#4597D3","#16B4E9","#1CBDBF","#1FB98A","#28AE48","#4FB045","#A2A93A","#E3C27E","#F0A060","#F1716A"]}}}},{"transform":[{"filter":"datum.share < 0.88"}],"mark":{"type":"text","align":"left","dx":2},"encoding":{"x":{"field":"share","type":"quantitative"},"y":{"field":"class","type":"nominal"},"text":{"field":"avg","type":"nominal"}}},{"transform":[{"filter":"datum.share >= 0.88"}],"mark":{"type":"text","align":"right","dx":-2},"encoding":{"x":{"field":"share","type":"quantitative"},"y":{"field":"class","type":"nominal"},"text":{"field":"avg","type":"nominal"}}}]},{"transform":[{"filter":"datum.class == 'Aminoglycoside'"}],"layer":[{"mark":{"type":"rect","fill":"white","stroke":"#333333","strokeWidth":1},"encoding":{"x":{"datum":-0.05,"type":"quantitative"},"x2":{"datum":1.05},"y":{"datum":1,"type":"quantitative","scale":{"domain":[0,1],"nice":false,"zero":false},"axis":null},"y2":{"datum":1.1005}}},{"mark":{"type":"text","fontSize":12,"align":"center"},"encoding":{"x":{"datum":0.5,"type":"quantitative"},"y":{"datum":1.05,"type":"quantitative"},"text":{"field":"serotype","type":"nominal"}}}]}]},
{"width":108,"height":219,"transform":[{"filter":"datum.serotype == 'Johannesburg'"}],"resolve":{"scale":{"y":"independent"}},"layer":[{"layer":[{"mark":{"type":"bar","stroke":"white","strokeOpacity":0.45,"strokeWidth":1},"encoding":{"x":{"field":"share","type":"quantitative","scale":{"domain":[-0.05,1.05],"nice":false},"axis":null},"x2":{"datum":0},"y":{"field":"class","type":"nominal","scale":{"domain":["Aminoglycoside","Tetracycline","Sulfonamide","Beta−lactam","Quaternary ammonium compounds","Fosfomycin","Phenicol","Trimethoprim","Bleomycin","Quinolone","Macrolides-lincosamides-streptomycin","Rifampicin","Streptothricin","No Genes"],"paddingInner":0.1,"paddingOuter":0.15},"axis":null},"color":{"field":"class","type":"nominal","legend":null,"scale":{"domain":["Aminoglycoside","Tetracycline","Sulfonamide","Beta−lactam","Quaternary ammonium compounds","Fosfomycin","Phenicol","Trimethoprim","Bleomycin","Quinolone","Macrolides-lincosamides-streptomycin","Rifampicin","Streptothricin","No Genes"],"range":["#EE5F9C","#D3689F","#B37AB5","#9186C2","#4597D3","#16B4E9","#1CBDBF","#1FB98A","#28AE48","#4FB045","#A2A93A","#E3C27E","#F0A060","#F1716A"]}}}},{"transform":[{"filter":"datum.share < 0.88"}],"mark":{"type":"text","align":"left","dx":2},"encoding":{"x":{"field":"share","type":"quantitative"},"y":{"field":"class","type":"nominal"},"text":{"field":"avg","type":"nominal"}}},{"transform":[{"filter":"datum.share >= 0.88"}],"mark":{"type":"text","align":"right","dx":-2},"encoding":{"x":{"field":"share","type":"quantitative"},"y":{"field":"class","type":"nominal"},"text":{"field":"avg","type":"nominal"}}}]},{"transform":[{"filter":"datum.class == 'Aminoglycoside'"}],"layer":[{"mark":{"type":"rect","fill":"white","stroke":"#333333","strokeWidth":1},"encoding":{"x":{"datum":-0.05,"type":"quantitative"},"x2":{"datum":1.05},"y":{"datum":1,"type":"quantitative","scale":{"domain":[0,1],"nice":false,"zero":false},"axis":null},"y2":{"datum":1.1005}}},{"mark":{"type":"text","fontSize":12,"align":"center"},"encoding":{"x":{"datum":0.5,"type":"quantitative"},"y":{"datum":1.05,"type":"quantitative"},"text":{"field":"serotype","type":"nominal"}}}]}]},
{"width":108,"height":219,"transform":[{"filter":"datum.serotype == 'Kentucky'"}],"resolve":{"scale":{"y":"independent"}},"layer":[{"layer":[{"mark":{"type":"bar","stroke":"white","strokeOpacity":0.45,"strokeWidth":1},"encoding":{"x":{"field":"share","type":"quantitative","scale":{"domain":[-0.05,1.05],"nice":false},"axis":null},"x2":{"datum":0},"y":{"field":"class","type":"nominal","scale":{"domain":["Aminoglycoside","Tetracycline","Sulfonamide","Beta−lactam","Quaternary ammonium compounds","Fosfomycin","Phenicol","Trimethoprim","Bleomycin","Quinolone","Macrolides-lincosamides-streptomycin","Rifampicin","Streptothricin","No Genes"],"paddingInner":0.1,"paddingOuter":0.15},"axis":null},"color":{"field":"class","type":"nominal","legend":null,"scale":{"domain":["Aminoglycoside","Tetracycline","Sulfonamide","Beta−lactam","Quaternary ammonium compounds","Fosfomycin","Phenicol","Trimethoprim","Bleomycin","Quinolone","Macrolides-lincosamides-streptomycin","Rifampicin","Streptothricin","No Genes"],"range":["#EE5F9C","#D3689F","#B37AB5","#9186C2","#4597D3","#16B4E9","#1CBDBF","#1FB98A","#28AE48","#4FB045","#A2A93A","#E3C27E","#F0A060","#F1716A"]}}}},{"transform":[{"filter":"datum.share < 0.88"}],"mark":{"type":"text","align":"left","dx":2},"encoding":{"x":{"field":"share","type":"quantitative"},"y":{"field":"class","type":"nominal"},"text":{"field":"avg","type":"nominal"}}},{"transform":[{"filter":"datum.share >= 0.88"}],"mark":{"type":"text","align":"right","dx":-2},"encoding":{"x":{"field":"share","type":"quantitative"},"y":{"field":"class","type":"nominal"},"text":{"field":"avg","type":"nominal"}}}]},{"transform":[{"filter":"datum.class == 'Aminoglycoside'"}],"layer":[{"mark":{"type":"rect","fill":"white","stroke":"#333333","strokeWidth":1},"encoding":{"x":{"datum":-0.05,"type":"quantitative"},"x2":{"datum":1.05},"y":{"datum":1,"type":"quantitative","scale":{"domain":[0,1],"nice":false,"zero":false},"axis":null},"y2":{"datum":1.1005}}},{"mark":{"type":"text","fontSize":12,"align":"center"},"encoding":{"x":{"datum":0.5,"type":"quantitative"},"y":{"datum":1.05,"type":"quantitative"},"text":{"field":"serotype","type":"nominal"}}}]}]},
{"width":108,"height":219,"transform":[{"filter":"datum.serotype == 'Mbandaka'"}],"resolve":{"scale":{"y":"independent"}},"layer":[{"layer":[{"mark":{"type":"bar","stroke":"white","strokeOpacity":0.45,"strokeWidth":1},"encoding":{"x":{"field":"share","type":"quantitative","scale":{"domain":[-0.05,1.05],"nice":false},"axis":null},"x2":{"datum":0},"y":{"field":"class","type":"nominal","scale":{"domain":["Aminoglycoside","Tetracycline","Sulfonamide","Beta−lactam","Quaternary ammonium compounds","Fosfomycin","Phenicol","Trimethoprim","Bleomycin","Quinolone","Macrolides-lincosamides-streptomycin","Rifampicin","Streptothricin","No Genes"],"paddingInner":0.1,"paddingOuter":0.15},"axis":{"title":null}},"color":{"field":"class","type":"nominal","legend":null,"scale":{"domain":["Aminoglycoside","Tetracycline","Sulfonamide","Beta−lactam","Quaternary ammonium compounds","Fosfomycin","Phenicol","Trimethoprim","Bleomycin","Quinolone","Macrolides-lincosamides-streptomycin","Rifampicin","Streptothricin","No Genes"],"range":["#EE5F9C","#D3689F","#B37AB5","#9186C2","#4597D3","#16B4E9","#1CBDBF","#1FB98A","#28AE48","#4FB045","#A2A93A","#E3C27E","#F0A060","#F1716A"]}}}},{"transform":[{"filter":"datum.share < 0.88"}],"mark":{"type":"text","align":"left","dx":2},"encoding":{"x":{"field":"share","type":"quantitative"},"y":{"field":"class","type":"nominal"},"text":{"field":"avg","type":"nominal"}}},{"transform":[{"filter":"datum.share >= 0.88"}],"mark":{"type":"text","align":"right","dx":-2},"encoding":{"x":{"field":"share","type":"quantitative"},"y":{"field":"class","type":"nominal"},"text":{"field":"avg","type":"nominal"}}}]},{"transform":[{"filter":"datum.class == 'Aminoglycoside'"}],"layer":[{"mark":{"type":"rect","fill":"white","stroke":"#333333","strokeWidth":1},"encoding":{"x":{"datum":-0.05,"type":"quantitative"},"x2":{"datum":1.05},"y":{"datum":1,"type":"quantitative","scale":{"domain":[0,1],"nice":false,"zero":false},"axis":null},"y2":{"datum":1.1005}}},{"mark":{"type":"text","fontSize":12,"align":"center"},"encoding":{"x":{"datum":0.5,"type":"quantitative"},"y":{"datum":1.05,"type":"quantitative"},"text":{"field":"serotype","type":"nominal"}}}]}]},
{"width":108,"height":219,"transform":[{"filter":"datum.serotype == 'Montevideo'"}],"resolve":{"scale":{"y":"independent"}},"layer":[{"layer":[{"mark":{"type":"bar","stroke":"white","strokeOpacity":0.45,"strokeWidth":1},"encoding":{"x":{"field":"share","type":"quantitative","scale":{"domain":[-0.05,1.05],"nice":false},"axis":null},"x2":{"datum":0},"y":{"field":"class","type":"nominal","scale":{"domain":["Aminoglycoside","Tetracycline","Sulfonamide","Beta−lactam","Quaternary ammonium compounds","Fosfomycin","Phenicol","Trimethoprim","Bleomycin","Quinolone","Macrolides-lincosamides-streptomycin","Rifampicin","Streptothricin","No Genes"],"paddingInner":0.1,"paddingOuter":0.15},"axis":null},"color":{"field":"class","type":"nominal","legend":null,"scale":{"domain":["Aminoglycoside","Tetracycline","Sulfonamide","Beta−lactam","Quaternary ammonium compounds","Fosfomycin","Phenicol","Trimethoprim","Bleomycin","Quinolone","Macrolides-lincosamides-streptomycin","Rifampicin","Streptothricin","No Genes"],"range":["#EE5F9C","#D3689F","#B37AB5","#9186C2","#4597D3","#16B4E9","#1CBDBF","#1FB98A","#28AE48","#4FB045","#A2A93A","#E3C27E","#F0A060","#F1716A"]}}}},{"transform":[{"filter":"datum.share < 0.88"}],"mark":{"type":"text","align":"left","dx":2},"encoding":{"x":{"field":"share","type":"quantitative"},"y":{"field":"class","type":"nominal"},"text":{"field":"avg","type":"nominal"}}},{"transform":[{"filter":"datum.share >= 0.88"}],"mark":{"type":"text","align":"right","dx":-2},"encoding":{"x":{"field":"share","type":"quantitative"},"y":{"field":"class","type":"nominal"},"text":{"field":"avg","type":"nominal"}}}]},{"transform":[{"filter":"datum.class == 'Aminoglycoside'"}],"layer":[{"mark":{"type":"rect","fill":"white","stroke":"#333333","strokeWidth":1},"encoding":{"x":{"datum":-0.05,"type":"quantitative"},"x2":{"datum":1.05},"y":{"datum":1,"type":"quantitative","scale":{"domain":[0,1],"nice":false,"zero":false},"axis":null},"y2":{"datum":1.1005}}},{"mark":{"type":"text","fontSize":12,"align":"center"},"encoding":{"x":{"datum":0.5,"type":"quantitative"},"y":{"datum":1.05,"type":"quantitative"},"text":{"field":"serotype","type":"nominal"}}}]}]},
{"width":108,"height":219,"transform":[{"filter":"datum.serotype == 'Newport'"}],"resolve":{"scale":{"y":"independent"}},"layer":[{"layer":[{"mark":{"type":"bar","stroke":"white","strokeOpacity":0.45,"strokeWidth":1},"encoding":{"x":{"field":"share","type":"quantitative","scale":{"domain":[-0.05,1.05],"nice":false},"axis":null},"x2":{"datum":0},"y":{"field":"class","type":"nominal","scale":{"domain":["Aminoglycoside","Tetracycline","Sulfonamide","Beta−lactam","Quaternary ammonium compounds","Fosfomycin","Phenicol","Trimethoprim","Bleomycin","Quinolone","Macrolides-lincosamides-streptomycin","Rifampicin","Streptothricin","No Genes"],"paddingInner":0.1,"paddingOuter":0.15},"axis":null},"color":{"field":"class","type":"nominal","legend":null,"scale":{"domain":["Aminoglycoside","Tetracycline","Sulfonamide","Beta−lactam","Quaternary ammonium compounds","Fosfomycin","Phenicol","Trimethoprim","Bleomycin","Quinolone","Macrolides-lincosamides-streptomycin","Rifampicin","Streptothricin","No Genes"],"range":["#EE5F9C","#D3689F","#B37AB5","#9186C2","#4597D3","#16B4E9","#1CBDBF","#1FB98A","#28AE48","#4FB045","#A2A93A","#E3C27E","#F0A060","#F1716A"]}}}},{"transform":[{"filter":"datum.share < 0.88"}],"mark":{"type":"text","align":"left","dx":2},"encoding":{"x":{"field":"share","type":"quantitative"},"y":{"field":"class","type":"nominal"},"text":{"field":"avg","type":"nominal"}}},{"transform":[{"filter":"datum.share >= 0.88"}],"mark":{"type":"text","align":"right","dx":-2},"encoding":{"x":{"field":"share","type":"quantitative"},"y":{"field":"class","type":"nominal"},"text":{"field":"avg","type":"nominal"}}}]},{"transform":[{"filter":"datum.class == 'Aminoglycoside'"}],"layer":[{"mark":{"type":"rect","fill":"white","stroke":"#333333","strokeWidth":1},"encoding":{"x":{"datum":-0.05,"type":"quantitative"},"x2":{"datum":1.05},"y":{"datum":1,"type":"quantitative","scale":{"domain":[0,1],"nice":false,"zero":false},"axis":null},"y2":{"datum":1.1005}}},{"mark":{"type":"text","fontSize":12,"align":"center"},"encoding":{"x":{"datum":0.5,"type":"quantitative"},"y":{"datum":1.05,"type":"quantitative"},"text":{"field":"serotype","type":"nominal"}}}]}]},
{"width":108,"height":219,"transform":[{"filter":"datum.serotype == 'Reading'"}],"resolve":{"scale":{"y":"independent"}},"layer":[{"layer":[{"mark":{"type":"bar","stroke":"white","strokeOpacity":0.45,"strokeWidth":1},"encoding":{"x":{"field":"share","type":"quantitative","scale":{"domain":[-0.05,1.05],"nice":false},"axis":null},"x2":{"datum":0},"y":{"field":"class","type":"nominal","scale":{"domain":["Aminoglycoside","Tetracycline","Sulfonamide","Beta−lactam","Quaternary ammonium compounds","Fosfomycin","Phenicol","Trimethoprim","Bleomycin","Quinolone","Macrolides-lincosamides-streptomycin","Rifampicin","Streptothricin","No Genes"],"paddingInner":0.1,"paddingOuter":0.15},"axis":null},"color":{"field":"class","type":"nominal","legend":null,"scale":{"domain":["Aminoglycoside","Tetracycline","Sulfonamide","Beta−lactam","Quaternary ammonium compounds","Fosfomycin","Phenicol","Trimethoprim","Bleomycin","Quinolone","Macrolides-lincosamides-streptomycin","Rifampicin","Streptothricin","No Genes"],"range":["#EE5F9C","#D3689F","#B37AB5","#9186C2","#4597D3","#16B4E9","#1CBDBF","#1FB98A","#28AE48","#4FB045","#A2A93A","#E3C27E","#F0A060","#F1716A"]}}}},{"transform":[{"filter":"datum.share < 0.88"}],"mark":{"type":"text","align":"left","dx":2},"encoding":{"x":{"field":"share","type":"quantitative"},"y":{"field":"class","type":"nominal"},"text":{"field":"avg","type":"nominal"}}},{"transform":[{"filter":"datum.share >= 0.88"}],"mark":{"type":"text","align":"right","dx":-2},"encoding":{"x":{"field":"share","type":"quantitative"},"y":{"field":"class","type":"nominal"},"text":{"field":"avg","type":"nominal"}}}]},{"transform":[{"filter":"datum.class == 'Aminoglycoside'"}],"layer":[{"mark":{"type":"rect","fill":"white","stroke":"#333333","strokeWidth":1},"encoding":{"x":{"datum":-0.05,"type":"quantitative"},"x2":{"datum":1.05},"y":{"datum":1,"type":"quantitative","scale":{"domain":[0,1],"nice":false,"zero":false},"axis":null},"y2":{"datum":1.1005}}},{"mark":{"type":"text","fontSize":12,"align":"center"},"encoding":{"x":{"datum":0.5,"type":"quantitative"},"y":{"datum":1.05,"type":"quantitative"},"text":{"field":"serotype","type":"nominal"}}}]}]},
{"width":108,"height":219,"transform":[{"filter":"datum.serotype == 'Saintpaul'"}],"resolve":{"scale":{"y":"independent"}},"layer":[{"layer":[{"mark":{"type":"bar","stroke":"white","strokeOpacity":0.45,"strokeWidth":1},"encoding":{"x":{"field":"share","type":"quantitative","scale":{"domain":[-0.05,1.05],"nice":false},"axis":null},"x2":{"datum":0},"y":{"field":"class","type":"nominal","scale":{"domain":["Aminoglycoside","Tetracycline","Sulfonamide","Beta−lactam","Quaternary ammonium compounds","Fosfomycin","Phenicol","Trimethoprim","Bleomycin","Quinolone","Macrolides-lincosamides-streptomycin","Rifampicin","Streptothricin","No Genes"],"paddingInner":0.1,"paddingOuter":0.15},"axis":null},"color":{"field":"class","type":"nominal","legend":null,"scale":{"domain":["Aminoglycoside","Tetracycline","Sulfonamide","Beta−lactam","Quaternary ammonium compounds","Fosfomycin","Phenicol","Trimethoprim","Bleomycin","Quinolone","Macrolides-lincosamides-streptomycin","Rifampicin","Streptothricin","No Genes"],"range":["#EE5F9C","#D3689F","#B37AB5","#9186C2","#4597D3","#16B4E9","#1CBDBF","#1FB98A","#28AE48","#4FB045","#A2A93A","#E3C27E","#F0A060","#F1716A"]}}}},{"transform":[{"filter":"datum.share < 0.88"}],"mark":{"type":"text","align":"left","dx":2},"encoding":{"x":{"field":"share","type":"quantitative"},"y":{"field":"class","type":"nominal"},"text":{"field":"avg","type":"nominal"}}},{"transform":[{"filter":"datum.share >= 0.88"}],"mark":{"type":"text","align":"right","dx":-2},"encoding":{"x":{"field":"share","type":"quantitative"},"y":{"field":"class","type":"nominal"},"text":{"field":"avg","type":"nominal"}}}]},{"transform":[{"filter":"datum.class == 'Aminoglycoside'"}],"layer":[{"mark":{"type":"rect","fill":"white","stroke":"#333333","strokeWidth":1},"encoding":{"x":{"datum":-0.05,"type":"quantitative"},"x2":{"datum":1.05},"y":{"datum":1,"type":"quantitative","scale":{"domain":[0,1],"nice":false,"zero":false},"axis":null},"y2":{"datum":1.1005}}},{"mark":{"type":"text","fontSize":12,"align":"center"},"encoding":{"x":{"datum":0.5,"type":"quantitative"},"y":{"datum":1.05,"type":"quantitative"},"text":{"field":"serotype","type":"nominal"}}}]}]},
{"width":108,"height":219,"transform":[{"filter":"datum.serotype == 'Schwarzengrund'"}],"resolve":{"scale":{"y":"independent"}},"layer":[{"layer":[{"mark":{"type":"bar","stroke":"white","strokeOpacity":0.45,"strokeWidth":1},"encoding":{"x":{"field":"share","type":"quantitative","scale":{"domain":[-0.05,1.05],"nice":false},"axis":{"values":[0,0.5,1],"labelExpr":"datum.value == 0 ? '0' : format(datum.value, '.1f')","title":null}},"x2":{"datum":0},"y":{"field":"class","type":"nominal","scale":{"domain":["Aminoglycoside","Tetracycline","Sulfonamide","Beta−lactam","Quaternary ammonium compounds","Fosfomycin","Phenicol","Trimethoprim","Bleomycin","Quinolone","Macrolides-lincosamides-streptomycin","Rifampicin","Streptothricin","No Genes"],"paddingInner":0.1,"paddingOuter":0.15},"axis":{"title":null}},"color":{"field":"class","type":"nominal","legend":null,"scale":{"domain":["Aminoglycoside","Tetracycline","Sulfonamide","Beta−lactam","Quaternary ammonium compounds","Fosfomycin","Phenicol","Trimethoprim","Bleomycin","Quinolone","Macrolides-lincosamides-streptomycin","Rifampicin","Streptothricin","No Genes"],"range":["#EE5F9C","#D3689F","#B37AB5","#9186C2","#4597D3","#16B4E9","#1CBDBF","#1FB98A","#28AE48","#4FB045","#A2A93A","#E3C27E","#F0A060","#F1716A"]}}}},{"transform":[{"filter":"datum.share < 0.88"}],"mark":{"type":"text","align":"left","dx":2},"encoding":{"x":{"field":"share","type":"quantitative"},"y":{"field":"class","type":"nominal"},"text":{"field":"avg","type":"nominal"}}},{"transform":[{"filter":"datum.share >= 0.88"}],"mark":{"type":"text","align":"right","dx":-2},"encoding":{"x":{"field":"share","type":"quantitative"},"y":{"field":"class","type":"nominal"},"text":{"field":"avg","type":"nominal"}}}]},{"transform":[{"filter":"datum.class == 'Aminoglycoside'"}],"layer":[{"mark":{"type":"rect","fill":"white","stroke":"#333333","strokeWidth":1},"encoding":{"x":{"datum":-0.05,"type":"quantitative"},"x2":{"datum":1.05},"y":{"datum":1,"type":"quantitative","scale":{"domain":[0,1],"nice":false,"zero":false},"axis":null},"y2":{"datum":1.1005}}},{"mark":{"type":"text","fontSize":12,"align":"center"},"encoding":{"x":{"datum":0.5,"type":"quantitative"},"y":{"datum":1.05,"type":"quantitative"},"text":{"field":"serotype","type":"nominal"}}}]}]},
{"width":108,"height":219,"transform":[{"filter":"datum.serotype == 'Thompson'"}],"resolve":{"scale":{"y":"independent"}},"layer":[{"layer":[{"mark":{"type":"bar","stroke":"white","strokeOpacity":0.45,"strokeWidth":1},"encoding":{"x":{"field":"share","type":"quantitative","scale":{"domain":[-0.05,1.05],"nice":false},"axis":{"values":[0,0.5,1],"labelExpr":"datum.value == 0 ? '0' : format(datum.value, '.1f')","title":null}},"x2":{"datum":0},"y":{"field":"class","type":"nominal","scale":{"domain":["Aminoglycoside","Tetracycline","Sulfonamide","Beta−lactam","Quaternary ammonium compounds","Fosfomycin","Phenicol","Trimethoprim","Bleomycin","Quinolone","Macrolides-lincosamides-streptomycin","Rifampicin","Streptothricin","No Genes"],"paddingInner":0.1,"paddingOuter":0.15},"axis":null},"color":{"field":"class","type":"nominal","legend":null,"scale":{"domain":["Aminoglycoside","Tetracycline","Sulfonamide","Beta−lactam","Quaternary ammonium compounds","Fosfomycin","Phenicol","Trimethoprim","Bleomycin","Quinolone","Macrolides-lincosamides-streptomycin","Rifampicin","Streptothricin","No Genes"],"range":["#EE5F9C","#D3689F","#B37AB5","#9186C2","#4597D3","#16B4E9","#1CBDBF","#1FB98A","#28AE48","#4FB045","#A2A93A","#E3C27E","#F0A060","#F1716A"]}}}},{"transform":[{"filter":"datum.share < 0.88"}],"mark":{"type":"text","align":"left","dx":2},"encoding":{"x":{"field":"share","type":"quantitative"},"y":{"field":"class","type":"nominal"},"text":{"field":"avg","type":"nominal"}}},{"transform":[{"filter":"datum.share >= 0.88"}],"mark":{"type":"text","align":"right","dx":-2},"encoding":{"x":{"field":"share","type":"quantitative"},"y":{"field":"class","type":"nominal"},"text":{"field":"avg","type":"nominal"}}}]},{"transform":[{"filter":"datum.class == 'Aminoglycoside'"}],"layer":[{"mark":{"type":"rect","fill":"white","stroke":"#333333","strokeWidth":1},"encoding":{"x":{"datum":-0.05,"type":"quantitative"},"x2":{"datum":1.05},"y":{"datum":1,"type":"quantitative","scale":{"domain":[0,1],"nice":false,"zero":false},"axis":null},"y2":{"datum":1.1005}}},{"mark":{"type":"text","fontSize":12,"align":"center"},"encoding":{"x":{"datum":0.5,"type":"quantitative"},"y":{"datum":1.05,"type":"quantitative"},"text":{"field":"serotype","type":"nominal"}}}]}]},
{"width":108,"height":219,"transform":[{"filter":"datum.serotype == 'Typhimurium'"}],"resolve":{"scale":{"y":"independent"}},"layer":[{"layer":[{"mark":{"type":"bar","stroke":"white","strokeOpacity":0.45,"strokeWidth":1},"encoding":{"x":{"field":"share","type":"quantitative","scale":{"domain":[-0.05,1.05],"nice":false},"axis":{"values":[0,0.5,1],"labelExpr":"datum.value == 0 ? '0' : format(datum.value, '.1f')","title":"Average Number of Isolates","titlePadding":4}},"x2":{"datum":0},"y":{"field":"class","type":"nominal","scale":{"domain":["Aminoglycoside","Tetracycline","Sulfonamide","Beta−lactam","Quaternary ammonium compounds","Fosfomycin","Phenicol","Trimethoprim","Bleomycin","Quinolone","Macrolides-lincosamides-streptomycin","Rifampicin","Streptothricin","No Genes"],"paddingInner":0.1,"paddingOuter":0.15},"axis":null},"color":{"field":"class","type":"nominal","legend":null,"scale":{"domain":["Aminoglycoside","Tetracycline","Sulfonamide","Beta−lactam","Quaternary ammonium compounds","Fosfomycin","Phenicol","Trimethoprim","Bleomycin","Quinolone","Macrolides-lincosamides-streptomycin","Rifampicin","Streptothricin","No Genes"],"range":["#EE5F9C","#D3689F","#B37AB5","#9186C2","#4597D3","#16B4E9","#1CBDBF","#1FB98A","#28AE48","#4FB045","#A2A93A","#E3C27E","#F0A060","#F1716A"]}}}},{"transform":[{"filter":"datum.share < 0.88"}],"mark":{"type":"text","align":"left","dx":2},"encoding":{"x":{"field":"share","type":"quantitative"},"y":{"field":"class","type":"nominal"},"text":{"field":"avg","type":"nominal"}}},{"transform":[{"filter":"datum.share >= 0.88"}],"mark":{"type":"text","align":"right","dx":-2},"encoding":{"x":{"field":"share","type":"quantitative"},"y":{"field":"class","type":"nominal"},"text":{"field":"avg","type":"nominal"}}}]},{"transform":[{"filter":"datum.class == 'Aminoglycoside'"}],"layer":[{"mark":{"type":"rect","fill":"white","stroke":"#333333","strokeWidth":1},"encoding":{"x":{"datum":-0.05,"type":"quantitative"},"x2":{"datum":1.05},"y":{"datum":1,"type":"quantitative","scale":{"domain":[0,1],"nice":false,"zero":false},"axis":null},"y2":{"datum":1.1005}}},{"mark":{"type":"text","fontSize":12,"align":"center"},"encoding":{"x":{"datum":0.5,"type":"quantitative"},"y":{"datum":1.05,"type":"quantitative"},"text":{"field":"serotype","type":"nominal"}}}]}]},
{"width":108,"height":219,"transform":[{"filter":"datum.serotype == 'Typhimurium(O5−)'"}],"resolve":{"scale":{"y":"independent"}},"layer":[{"layer":[{"mark":{"type":"bar","stroke":"white","strokeOpacity":0.45,"strokeWidth":1},"encoding":{"x":{"field":"share","type":"quantitative","scale":{"domain":[-0.05,1.05],"nice":false},"axis":{"values":[0,0.5,1],"labelExpr":"datum.value == 0 ? '0' : format(datum.value, '.1f')","title":null}},"x2":{"datum":0},"y":{"field":"class","type":"nominal","scale":{"domain":["Aminoglycoside","Tetracycline","Sulfonamide","Beta−lactam","Quaternary ammonium compounds","Fosfomycin","Phenicol","Trimethoprim","Bleomycin","Quinolone","Macrolides-lincosamides-streptomycin","Rifampicin","Streptothricin","No Genes"],"paddingInner":0.1,"paddingOuter":0.15},"axis":null},"color":{"field":"class","type":"nominal","legend":null,"scale":{"domain":["Aminoglycoside","Tetracycline","Sulfonamide","Beta−lactam","Quaternary ammonium compounds","Fosfomycin","Phenicol","Trimethoprim","Bleomycin","Quinolone","Macrolides-lincosamides-streptomycin","Rifampicin","Streptothricin","No Genes"],"range":["#EE5F9C","#D3689F","#B37AB5","#9186C2","#4597D3","#16B4E9","#1CBDBF","#1FB98A","#28AE48","#4FB045","#A2A93A","#E3C27E","#F0A060","#F1716A"]}}}},{"transform":[{"filter":"datum.share < 0.88"}],"mark":{"type":"text","align":"left","dx":2},"encoding":{"x":{"field":"share","type":"quantitative"},"y":{"field":"class","type":"nominal"},"text":{"field":"avg","type":"nominal"}}},{"transform":[{"filter":"datum.share >= 0.88"}],"mark":{"type":"text","align":"right","dx":-2},"encoding":{"x":{"field":"share","type":"quantitative"},"y":{"field":"class","type":"nominal"},"text":{"field":"avg","type":"nominal"}}}]},{"transform":[{"filter":"datum.class == 'Aminoglycoside'"}],"layer":[{"mark":{"type":"rect","fill":"white","stroke":"#333333","strokeWidth":1},"encoding":{"x":{"datum":-0.05,"type":"quantitative"},"x2":{"datum":1.05},"y":{"datum":1,"type":"quantitative","scale":{"domain":[0,1],"nice":false,"zero":false},"axis":null},"y2":{"datum":1.1005}}},{"mark":{"type":"text","fontSize":12,"align":"center"},"encoding":{"x":{"datum":0.5,"type":"quantitative"},"y":{"datum":1.05,"type":"quantitative"},"text":{"field":"serotype","type":"nominal"}}}]}]},
{"width":108,"height":219,"transform":[{"filter":"datum.serotype == 'Weltevreden'"}],"resolve":{"scale":{"y":"independent"}},"layer":[{"layer":[{"mark":{"type":"bar","stroke":"white","strokeOpacity":0.45,"strokeWidth":1},"encoding":{"x":{"field":"share","type":"quantitative","scale":{"domain":[-0.05,1.05],"nice":false},"axis":{"values":[0,0.5,1],"labelExpr":"datum.value == 0 ? '0' : format(datum.value, '.1f')","title":null}},"x2":{"datum":0},"y":{"field":"class","type":"nominal","scale":{"domain":["Aminoglycoside","Tetracycline","Sulfonamide","Beta−lactam","Quaternary ammonium compounds","Fosfomycin","Phenicol","Trimethoprim","Bleomycin","Quinolone","Macrolides-lincosamides-streptomycin","Rifampicin","Streptothricin","No Genes"],"paddingInner":0.1,"paddingOuter":0.15},"axis":null},"color":{"field":"class","type":"nominal","legend":null,"scale":{"domain":["Aminoglycoside","Tetracycline","Sulfonamide","Beta−lactam","Quaternary ammonium compounds","Fosfomycin","Phenicol","Trimethoprim","Bleomycin","Quinolone","Macrolides-lincosamides-streptomycin","Rifampicin","Streptothricin","No Genes"],"range":["#EE5F9C","#D3689F","#B37AB5","#9186C2","#4597D3","#16B4E9","#1CBDBF","#1FB98A","#28AE48","#4FB045","#A2A93A","#E3C27E","#F0A060","#F1716A"]}}}},{"transform":[{"filter":"datum.share < 0.88"}],"mark":{"type":"text","align":"left","dx":2},"encoding":{"x":{"field":"share","type":"quantitative"},"y":{"field":"class","type":"nominal"},"text":{"field":"avg","type":"nominal"}}},{"transform":[{"filter":"datum.share >= 0.88"}],"mark":{"type":"text","align":"right","dx":-2},"encoding":{"x":{"field":"share","type":"quantitative"},"y":{"field":"class","type":"nominal"},"text":{"field":"avg","type":"nominal"}}}]},{"transform":[{"filter":"datum.class == 'Aminoglycoside'"}],"layer":[{"mark":{"type":"rect","fill":"white","stroke":"#333333","strokeWidth":1},"encoding":{"x":{"datum":-0.05,"type":"quantitative"},"x2":{"datum":1.05},"y":{"datum":1,"type":"quantitative","scale":{"domain":[0,1],"nice":false,"zero":false},"axis":null},"y2":{"datum":1.1005}}},{"mark":{"type":"text","fontSize":12,"align":"center"},"encoding":{"x":{"datum":0.5,"type":"quantitative"},"y":{"datum":1.05,"type":"quantitative"},"text":{"field":"serotype","type":"nominal"}}}]}]}
],
"config": {
  "font": "Liberation Sans",
  "view": {"stroke": "#333333", "strokeWidth": 1},
  "axis": {"grid": false, "domain": false, "tickSize": 3, "tickColor": "#333333", "labelColor": "#4D4D4D", "labelFontSize": 12, "labelFont": "Liberation Sans", "labelLimit": 0, "labelPadding": 2, "titleFont": "Liberation Sans", "titleFontSize": 14, "titleFontWeight": "normal", "titleColor": "#000000"},
  "text": {"font": "Liberation Sans", "fontSize": 8, "baseline": "middle", "color": "#000000"}
}
}
